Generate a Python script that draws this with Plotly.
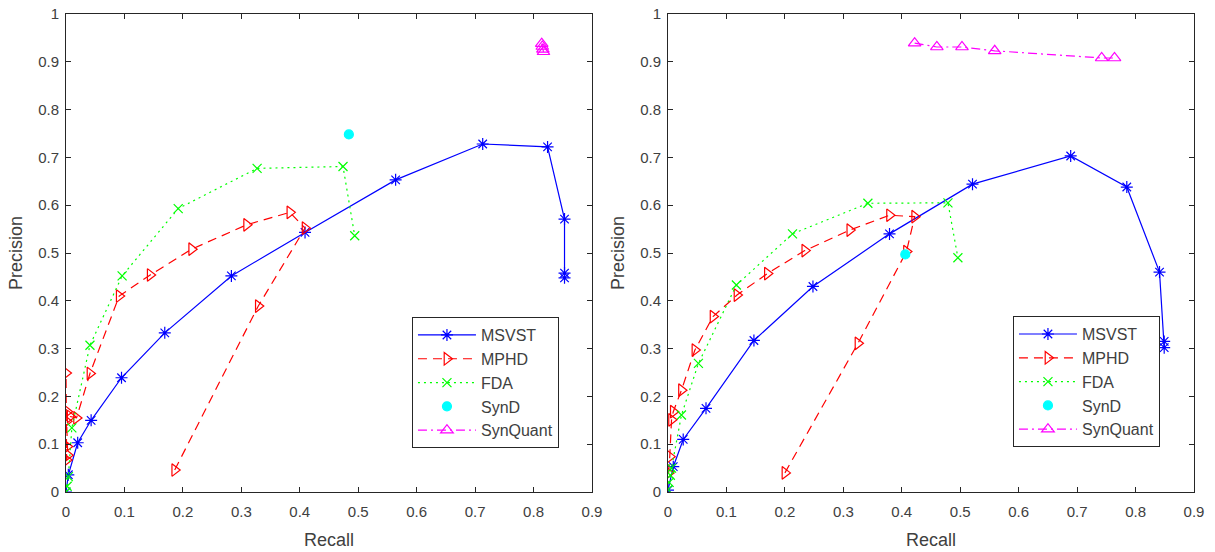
import plotly.graph_objects as go

# ---------------- Left panel data ----------------
L_msvst_r = [0.0, 0.004, 0.02, 0.043, 0.095, 0.169, 0.283, 0.409, 0.564, 0.713, 0.824, 0.853, 0.853, 0.853]
L_msvst_p = [0.0, 0.036, 0.103, 0.150, 0.239, 0.333, 0.452, 0.543, 0.653, 0.728, 0.722, 0.571, 0.458, 0.448]

L_mphd_r = [0.186, 0.329, 0.409, 0.383, 0.309, 0.215, 0.144, 0.091, 0.041, 0.018, 0.007, 0.002, 0.001, 0.002, 0.003, 0.001, 0.0]
L_mphd_p = [0.046, 0.389, 0.552, 0.585, 0.559, 0.508, 0.454, 0.410, 0.248, 0.155, 0.158, 0.168, 0.148, 0.095, 0.077, 0.067, 0.249]

L_fda_r = [0.0, 0.002, 0.004, 0.010, 0.041, 0.096, 0.192, 0.327, 0.474, 0.494]
L_fda_p = [0.0, 0.012, 0.032, 0.134, 0.307, 0.452, 0.593, 0.677, 0.681, 0.536]

L_synd_r = [0.484]
L_synd_p = [0.748]

L_synq_r = [0.814, 0.815, 0.816, 0.817]
L_synq_p = [0.938, 0.932, 0.926, 0.921]

# ---------------- Right panel data ----------------
R_msvst_r = [0.0, 0.009, 0.026, 0.065, 0.147, 0.248, 0.379, 0.521, 0.689, 0.785, 0.841, 0.849, 0.849]
R_msvst_p = [0.004, 0.053, 0.110, 0.175, 0.317, 0.430, 0.540, 0.644, 0.703, 0.638, 0.460, 0.315, 0.302]

R_mphd_r = [0.200, 0.325, 0.408, 0.422, 0.379, 0.311, 0.234, 0.170, 0.118, 0.077, 0.046, 0.023, 0.009, 0.006, 0.003, 0.001]
R_mphd_p = [0.040, 0.311, 0.503, 0.576, 0.579, 0.548, 0.505, 0.457, 0.412, 0.367, 0.297, 0.213, 0.168, 0.151, 0.074, 0.040]

R_fda_r = [0.0, 0.002, 0.004, 0.006, 0.023, 0.052, 0.117, 0.213, 0.342, 0.479, 0.496]
R_fda_p = [0.005, 0.020, 0.035, 0.050, 0.161, 0.269, 0.433, 0.540, 0.604, 0.605, 0.490]

R_synd_r = [0.406]
R_synd_p = [0.497]

R_synq_r = [0.422, 0.460, 0.503, 0.559, 0.742, 0.764]
R_synq_p = [0.939, 0.931, 0.931, 0.923, 0.908, 0.908]

x_ticks = [0, 0.1, 0.2, 0.3, 0.4, 0.5, 0.6, 0.7, 0.8, 0.9]
y_ticks = [0, 0.1, 0.2, 0.3, 0.4, 0.5, 0.6, 0.7, 0.8, 0.9, 1]

FONT = "Liberation Sans, Arial, sans-serif"
AX = "#262626"
TXT = "#404040"

styles = {
    "MSVST": dict(color="#0000ff", dash="solid", symbol="asterisk-open", size=10, mode="lines+markers"),
    "MPHD": dict(color="#ff0000", dash="9px,6px", symbol="triangle-right-open", size=11, mode="lines+markers"),
    "FDA": dict(color="#00ff00", dash="2px,4px", symbol="x-thin-open", size=9, mode="lines+markers"),
    "SynD": dict(color="#00ffff", dash="solid", symbol="circle", size=9, mode="markers"),
    "SynQuant": dict(color="#ff00ff", dash="9px,4px,2px,4px", symbol="triangle-up-open", size=11, mode="lines+markers"),
}

fig = go.Figure()

def add(name, r, p, xa, ya, legend):
    s = styles[name]
    fig.add_trace(go.Scatter(
        x=r, y=p, name=name, mode=s["mode"], xaxis=xa, yaxis=ya, legend=legend,
        line=dict(color=s["color"], dash=s["dash"], width=1.2),
        marker=dict(symbol=s["symbol"], size=s["size"], color=s["color"],
                    line=dict(color=s["color"], width=1.2)),
    ))

add("MSVST", L_msvst_r, L_msvst_p, "x", "y", "legend")
add("MPHD", L_mphd_r, L_mphd_p, "x", "y", "legend")
add("FDA", L_fda_r, L_fda_p, "x", "y", "legend")
add("SynD", L_synd_r, L_synd_p, "x", "y", "legend")
add("SynQuant", L_synq_r, L_synq_p, "x", "y", "legend")

add("MSVST", R_msvst_r, R_msvst_p, "x2", "y2", "legend2")
add("MPHD", R_mphd_r, R_mphd_p, "x2", "y2", "legend2")
add("FDA", R_fda_r, R_fda_p, "x2", "y2", "legend2")
add("SynD", R_synd_r, R_synd_p, "x2", "y2", "legend2")
add("SynQuant", R_synq_r, R_synq_p, "x2", "y2", "legend2")

def xaxis(domain, anchor):
    return dict(domain=domain, anchor=anchor, range=[0, 0.9], tickvals=x_ticks,
                ticks="inside", ticklen=5, tickcolor=AX, showline=True, linecolor=AX,
                linewidth=1, mirror="ticks", showgrid=False, zeroline=False,
                ticklabelstandoff=6,
                tickfont=dict(size=15, color=TXT, family=FONT),
                title=dict(text="Recall", font=dict(size=18, color=TXT, family=FONT), standoff=14))

def yaxis(anchor):
    return dict(domain=[0, 1], anchor=anchor, range=[0, 1], tickvals=y_ticks,
                ticks="inside", ticklen=5, tickcolor=AX, showline=True, linecolor=AX,
                linewidth=1, mirror="ticks", showgrid=False, zeroline=False,
                ticklabelstandoff=3,
                tickfont=dict(size=15, color=TXT, family=FONT),
                title=dict(text="Precision", font=dict(size=18, color=TXT, family=FONT), standoff=10))

legend_common = dict(xanchor="left", yanchor="top", bgcolor="white", bordercolor=AX,
                     borderwidth=1, font=dict(size=16, color=TXT, family=FONT),
                     itemwidth=58, tracegroupgap=0, itemclick=False)

fig.update_layout(
    width=1215, height=552,
    margin=dict(l=66, r=21, t=14, b=60, autoexpand=False),
    paper_bgcolor="white", plot_bgcolor="white",
    font=dict(family=FONT, color=TXT),
    xaxis=xaxis([0, 0.4663], "y"),
    yaxis=yaxis("x"),
    xaxis2=xaxis([0.5337, 1], "y2"),
    yaxis2=yaxis("x2"),
    legend=dict(x=0.3067, y=0.366, **legend_common),
    legend2=dict(x=0.8395, y=0.368, **legend_common),
    showlegend=True,
)

fig.write_html("out.html")
